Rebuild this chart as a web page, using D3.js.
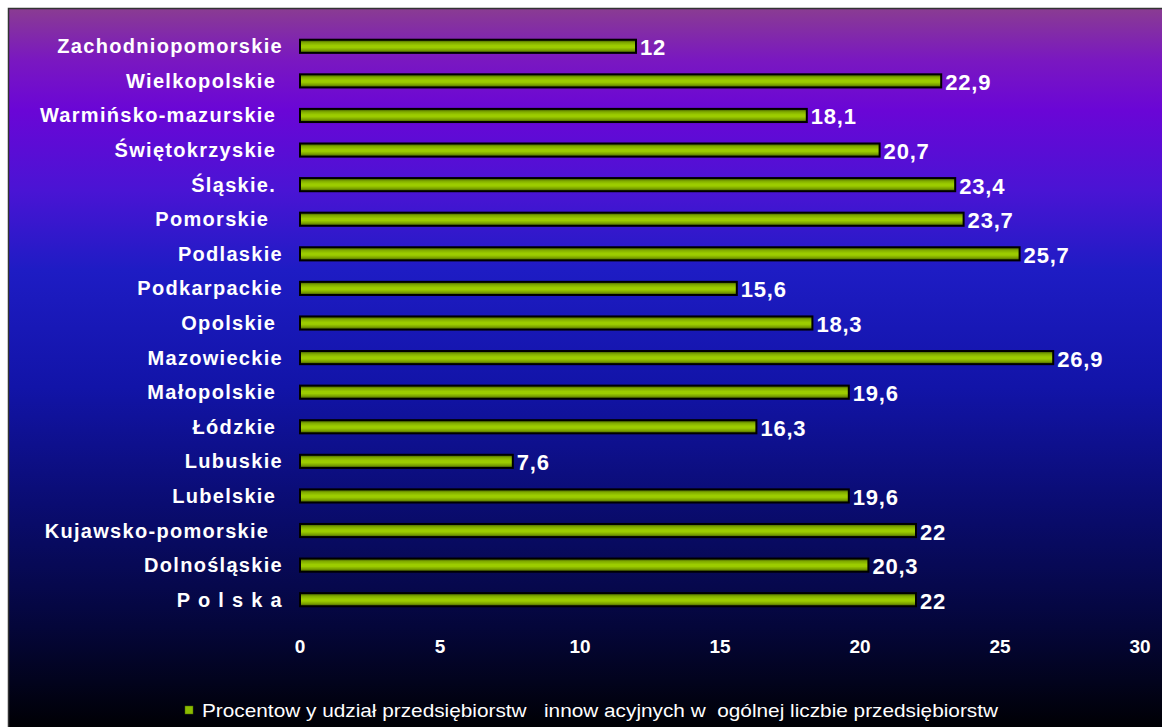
<!DOCTYPE html>
<html>
<head>
<meta charset="utf-8">
<script src="https://cdn.jsdelivr.net/npm/d3@7"></script>
<style>
  body { margin: 0; background: #ffffff; }
  svg text { font-family: "Liberation Sans", Arial, sans-serif; fill: #ffffff; white-space: pre; }
</style>
</head>
<body>
<div id="containerChart"></div>
<script>
// regions, top to bottom as in the picture
var regions = ["Zachodniopomorskie", "Wielkopolskie ", "Warmińsko-mazurskie ", "Świętokrzyskie ",
	"Śląskie. ", "Pomorskie  ", "Podlaskie", "Podkarpackie", "Opolskie ", "Mazowieckie",
	"Małopolskie ", "Łódzkie ", "Lubuskie", "Lubelskie ", "Kujawsko-pomorskie  ", "Dolnośląskie", "P o l s k a"];

// share of innovative firms (%)
var shares = [12, 22.9, 18.1, 20.7, 23.4, 23.7, 25.7, 15.6, 18.3, 26.9, 19.6, 16.3, 7.6, 19.6, 22, 20.3, 22];

var ticks = [0, 5, 10, 15, 20, 25, 30];
var legendText = "Procentow y udział przedsiębiorstw   innow acyjnych w  ogólnej liczbie przedsiębiorstw";

var width = 1162;
var height = 727;
var leftMargin = 300;
var rightEdge = 1140;

var svg = d3.select("#containerChart")
	.append("svg")
	.attr("width", width)
	.attr("height", height);

var defs = svg.append("defs");

// background gradient purple -> blue -> black
var bg = defs.append("linearGradient")
	.attr("id", "bgGrad")
	.attr("x1", 0).attr("y1", 0).attr("x2", 0).attr("y2", 1);
var bgStops = [[0, "#8a3c92"], [0.07, "#7a18c0"], [0.14, "#6a06d6"], [0.25, "#4a14d4"],
	[0.36, "#1e1cc4"], [0.52, "#1214a8"], [0.68, "#0a0c72"], [0.85, "#04063a"], [1, "#000000"]];
bg.selectAll("stop")
	.data(bgStops)
	.enter()
	.append("stop")
	.attr("offset", function(d){ return d[0]; })
	.attr("stop-color", function(d){ return d[1]; });

// bar gradient, dark edges and bright middle
var barGrad = defs.append("linearGradient")
	.attr("id", "barGrad")
	.attr("x1", 0).attr("y1", 0).attr("x2", 0).attr("y2", 1);
var barStops = [[0, "#3a5200"], [0.22, "#80aa00"], [0.45, "#9ccc00"], [0.6, "#9ccc00"], [0.8, "#7aa000"], [1, "#3a5200"]];
barGrad.selectAll("stop")
	.data(barStops)
	.enter()
	.append("stop")
	.attr("offset", function(d){ return d[0]; })
	.attr("stop-color", function(d){ return d[1]; });

// frame
svg.append("rect")
	.attr("x", 8.5)
	.attr("y", 8.5)
	.attr("width", width)
	.attr("height", height)
	.style("fill", "url(#bgGrad)")
	.style("stroke", "#333333")
	.style("stroke-width", 1.5);

// scales
var x = d3.scaleLinear()
	.domain([0, 30])
	.range([leftMargin, rightEdge]);
var y = d3.scaleBand()
	.domain(regions)
	.range([29, 617])
	.paddingInner(0.62)
	.paddingOuter(0.31);

// bars
svg.selectAll(".bar")
	.data(shares)
	.enter()
	.append("rect")
	.attr("class", "bar")
	.attr("x", x(0))
	.attr("y", function(d, i){ return y(regions[i]); })
	.attr("width", function(d){ return x(d) - x(0); })
	.attr("height", y.bandwidth())
	.style("fill", "url(#barGrad)")
	.style("stroke", "#000000")
	.style("stroke-width", 2);

// value labels
svg.selectAll(".value")
	.data(shares)
	.enter()
	.append("text")
	.attr("class", "value")
	.attr("x", function(d){ return x(d) + 4; })
	.attr("y", function(d, i){ return y(regions[i]) + y.bandwidth() / 2 + 9; })
	.style("font-size", "22px")
	.style("font-weight", "bold")
	.style("letter-spacing", "0.8px")
	.text(function(d){ return String(d).replace(".", ","); });

// category labels
svg.selectAll(".region")
	.data(regions)
	.enter()
	.append("text")
	.attr("class", "region")
	.attr("x", 283)
	.attr("y", function(d){ return y(d) + y.bandwidth() / 2 + 7; })
	.style("font-size", "20px")
	.style("font-weight", "bold")
	.style("letter-spacing", "1.3px")
	.style("text-anchor", "end")
	.text(function(d){ return d; });

// x axis tick labels
svg.selectAll(".tick")
	.data(ticks)
	.enter()
	.append("text")
	.attr("class", "tick")
	.attr("x", function(d){ return x(d); })
	.attr("y", 653)
	.style("font-size", "19px")
	.style("font-weight", "bold")
	.style("text-anchor", "middle")
	.text(function(d){ return d; });

// legend
svg.append("rect")
	.attr("x", 185)
	.attr("y", 706)
	.attr("width", 8)
	.attr("height", 8)
	.style("fill", "#8cbc00")
	.style("stroke", "#4a6a00")
	.style("stroke-width", 0.5);
svg.append("text")
	.attr("x", 202)
	.attr("y", 717)
	.attr("textLength", 796)
	.attr("lengthAdjust", "spacingAndGlyphs")
	.style("font-size", "19px")
	.text(legendText);
</script>
</body>
</html>
